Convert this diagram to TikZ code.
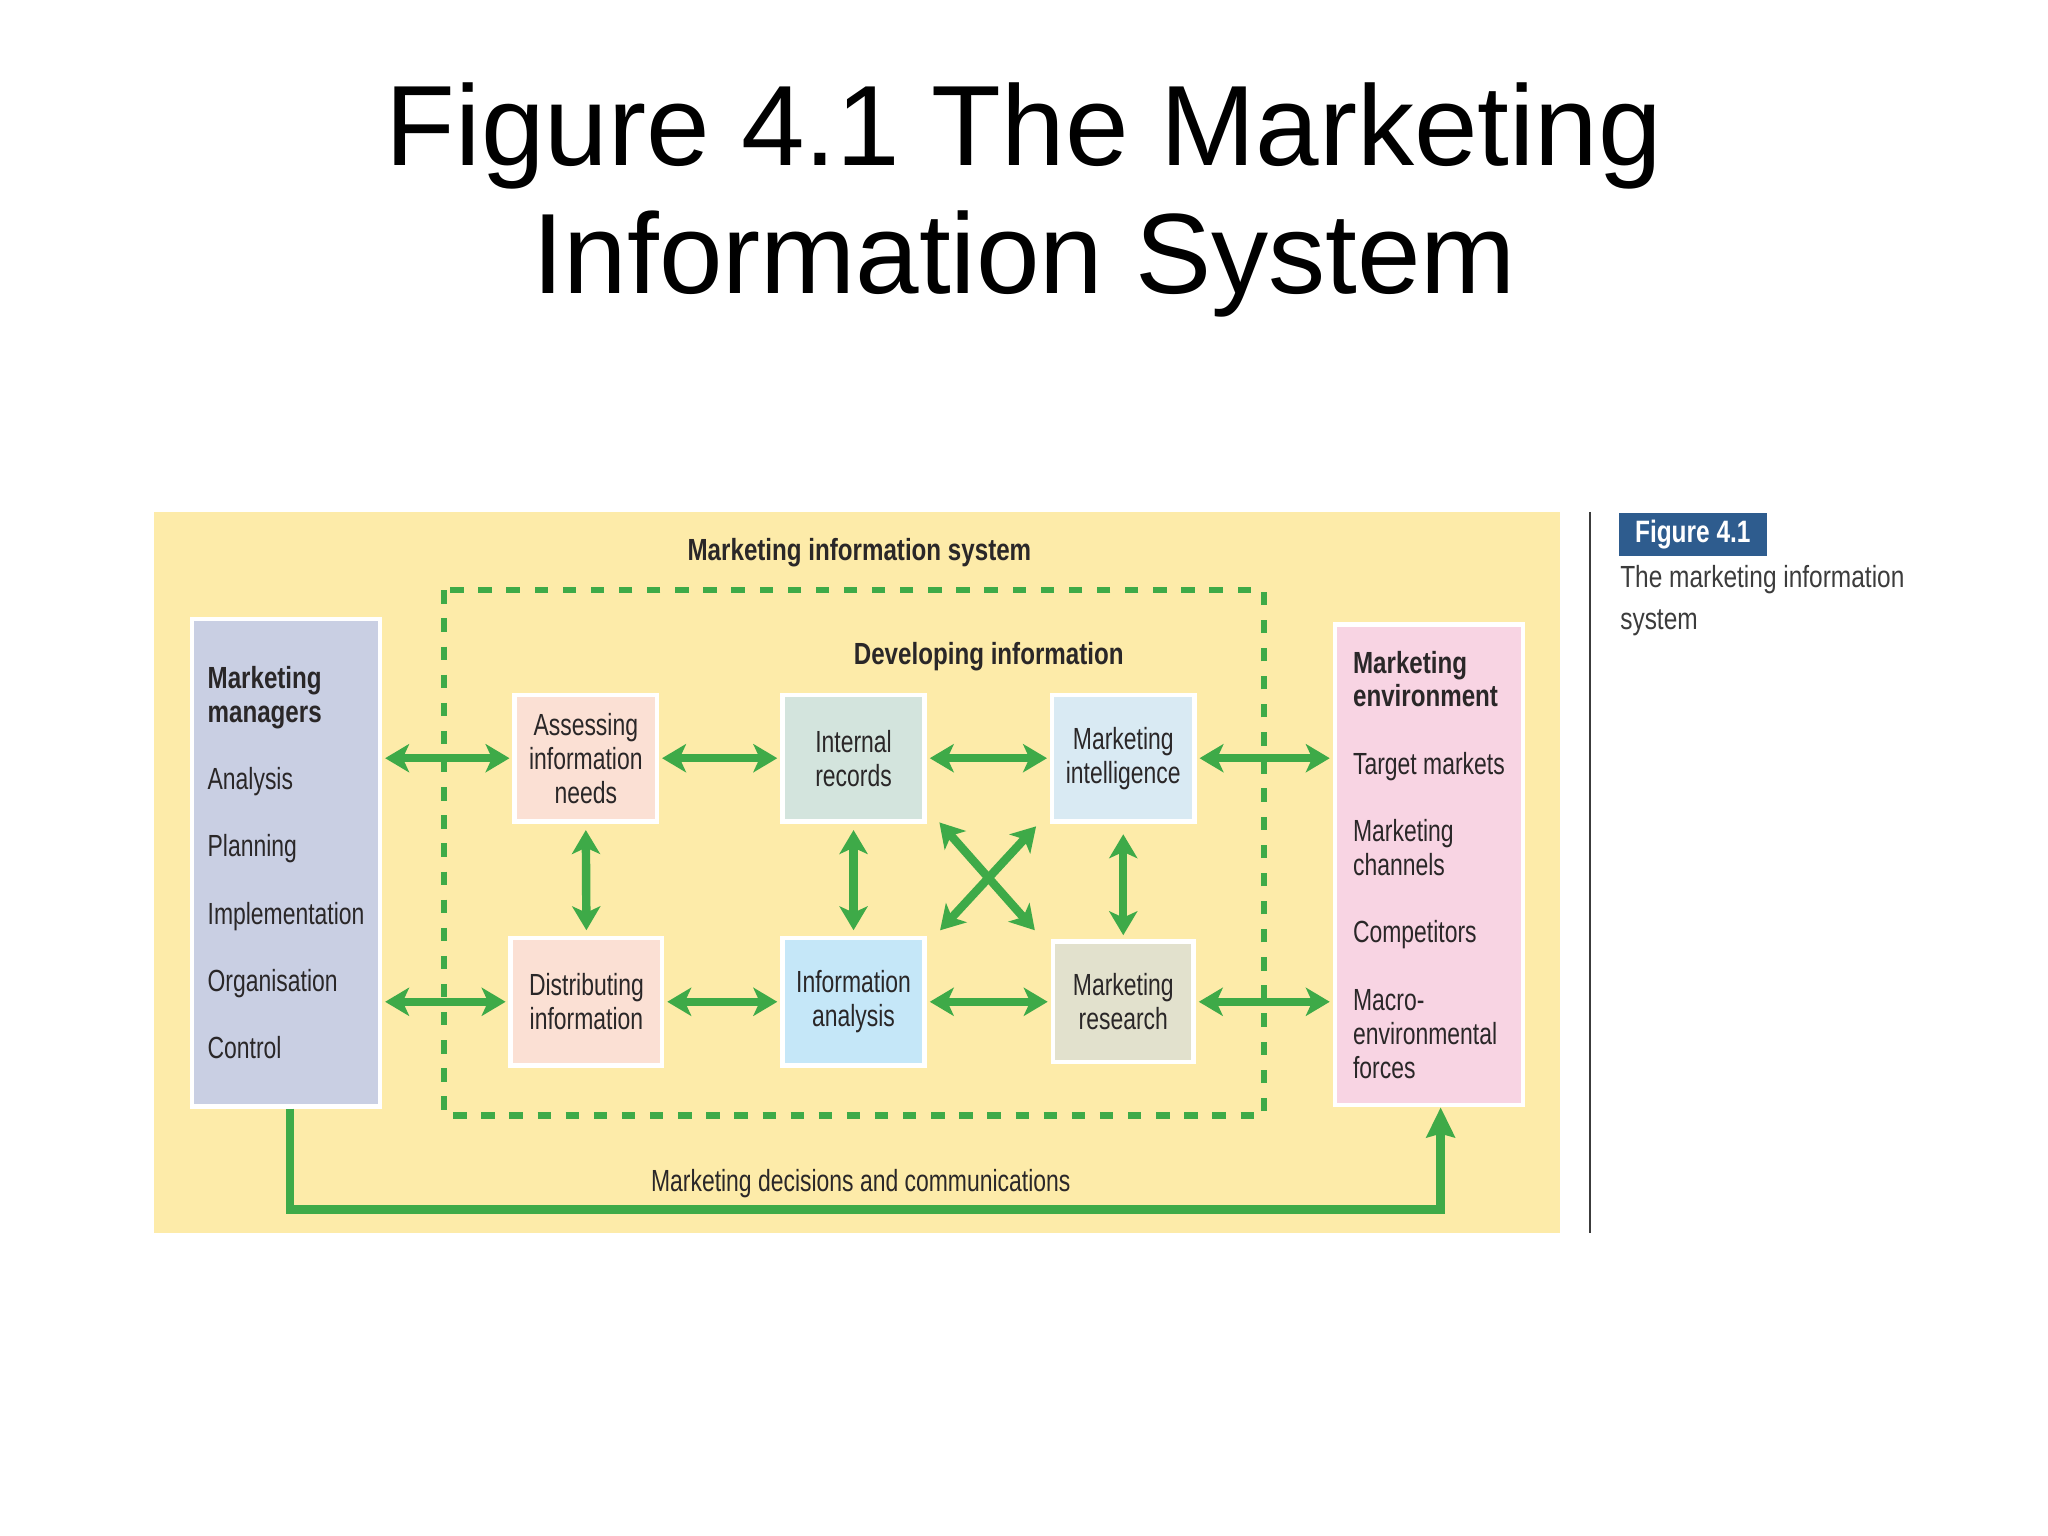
\documentclass[tikz,border=0pt]{standalone}
\usepackage{fontspec}
\setmainfont{Liberation Sans}
\newfontfamily\condfont[FakeStretch=0.75]{Liberation Sans}
\newfontfamily\condbold[FakeStretch=0.79]{Liberation Sans}
\newfontfamily\capfont[FakeStretch=0.8]{Liberation Sans}
\usetikzlibrary{arrows.meta}
\definecolor{misyellow}{HTML}{FDEBA9}
\definecolor{misgreen}{HTML}{3EAA48}
\definecolor{misdark}{HTML}{2A2728}
\definecolor{mgrblue}{HTML}{C9CFE3}
\definecolor{envpink}{HTML}{F8D4E3}
\definecolor{peach}{HTML}{FBE0D4}
\definecolor{recgrey}{HTML}{D3E4DD}
\definecolor{intelblue}{HTML}{D9EAF3}
\definecolor{anablue}{HTML}{C5E7F8}
\definecolor{resbeige}{HTML}{E2E1CD}
\definecolor{tagblue}{HTML}{2E5C8E}
\definecolor{capgrey}{HTML}{3C3C3C}
\newcommand{\boxhead}[1]{{\condbold\bfseries #1}}

\begin{document}
\begin{tikzpicture}[x=0.013061cm,y=-0.013061cm,
  >={Stealth[length=6.8pt,width=8pt,inset=1.8pt]},
  txt/.style={font=\condfont\fontsize{8.7}{9.66}\selectfont,text=misdark},
  head/.style={txt,font=\condbold\bfseries\fontsize{8.7}{9.66}\selectfont},
  infobox/.style={txt,draw=white,line width=1.3pt,align=center,inner sep=1pt,
    minimum width=40.5pt,minimum height=36pt},
  sidebox/.style={infobox,align=left,minimum width=53.5pt},
  dbl/.style={<->,draw=misgreen,line width=2.4pt,shorten <=0.8pt,shorten >=0.8pt},
  fb/.style={-{Stealth[length=8.5pt,width=8pt,inset=1pt]},draw=misgreen,line width=2.5pt}]
  \useasboundingbox (0,0) rectangle (1568,1176);
  \fill[white] (0,0) rectangle (1568,1176);
  % ===== title =====
  \node[anchor=base,align=center,font=\fontsize{32.5}{36.3}\selectfont] (title)
    at (784,224.6) {Figure 4.1 The Marketing\\Information System};
  % ===== panel =====
  \fill[misyellow] (118,392) rectangle (1194,944);
  \node[head,anchor=base] (mislbl) at (658,429) {Marketing information system};
  \draw[misgreen,line width=1.75pt,dash pattern=on 3.8pt off 4.2pt] (340,452) rectangle (968,854);
  \node[head,anchor=base] (devlbl) at (757,509) {Developing information};
  % side boxes
  \node[sidebox,fill=mgrblue,minimum height=138.6pt] (mgr) at (219,660.5)
    {\boxhead{Marketing}\\\boxhead{managers}\\[9.5pt]Analysis\\[9.5pt]Planning\\[9.5pt]Implementation\\[9.5pt]Organisation\\[9.5pt]Control};
  \node[sidebox,fill=envpink,minimum height=136.8pt] (env) at (1094,662)
    {\boxhead{Marketing}\\\boxhead{environment}\\[9.5pt]Target markets\\[9.5pt]Marketing\\channels\\[9.5pt]Competitors\\[9.5pt]Macro-\\environmental\\forces};
  % developing information boxes
  \node[infobox,fill=peach] (assess) at (448.5,580.5) {Assessing\\information\\needs};
  \node[infobox,fill=recgrey] (records) at (653.5,580.5) {Internal\\records};
  \node[infobox,fill=intelblue] (intel) at (860,580.5) {Marketing\\intelligence};
  \node[infobox,fill=peach,minimum width=43.1pt,minimum height=36.4pt] (distrib) at (449,767) {Distributing\\information};
  \node[infobox,fill=anablue,minimum height=36.4pt] (analysis) at (653.5,767) {Information\\analysis};
  \node[infobox,fill=resbeige,minimum width=40.1pt,minimum height=34.2pt] (research) at (860,767) {Marketing\\research};
  % two-way flows
  \draw[dbl] (mgr.east |- assess.west) -- (assess.west);
  \draw[dbl] (mgr.east |- distrib.west) -- (distrib.west);
  \draw[dbl] (assess.east) -- (records.west);
  \draw[dbl] (records.east) -- (intel.west);
  \draw[dbl] (intel.east) -- (env.west |- intel.east);
  \draw[dbl] (distrib.east) -- (analysis.west);
  \draw[dbl] (analysis.east) -- (research.west);
  \draw[dbl] (research.east) -- (env.west |- research.east);
  \draw[dbl,shorten <=1.8pt,shorten >=1.5pt] (assess.south) -- (distrib.north);
  \draw[dbl,shorten <=1.8pt,shorten >=1.5pt] (records.south) -- (analysis.north);
  \draw[dbl,shorten <=3pt,shorten >=1.2pt] (intel.south) -- (research.north);
  \draw[dbl,shorten <=0pt,shorten >=0pt] ([shift={(9.5,-1)}]records.south east) -- ([shift={(-12,-7)}]research.north west);
  \draw[dbl,shorten <=0pt,shorten >=0pt] ([shift={(-10.5,2)}]intel.south west) -- ([shift={(10,-4)}]analysis.north east);
  % decisions back to the environment
  \draw[fb] ([shift={(3,0)}]mgr.south) -- ++(0,77.5) -| ([shift={(9,0)}]env.south);
  \node[txt,anchor=base] (declbl) at (659,912) {Marketing decisions and communications};
  % ===== caption =====
  \draw[capgrey,line width=0.6pt] (1217,392) -- (1217,944);
  \node[anchor=north west,fill=tagblue,text=white,inner sep=0pt,minimum width=42pt,minimum height=12.3pt,
    font=\condbold\bfseries\fontsize{8.8}{10}\selectfont] (tag) at (1239,392) {Figure 4.1};
  \node[txt,text=capgrey,anchor=base west,align=left,inner sep=0pt,
    font=\capfont\fontsize{8.7}{11.9}\selectfont] (cap) at (1240,482) {The marketing information\\system};
\end{tikzpicture}
\end{document}
